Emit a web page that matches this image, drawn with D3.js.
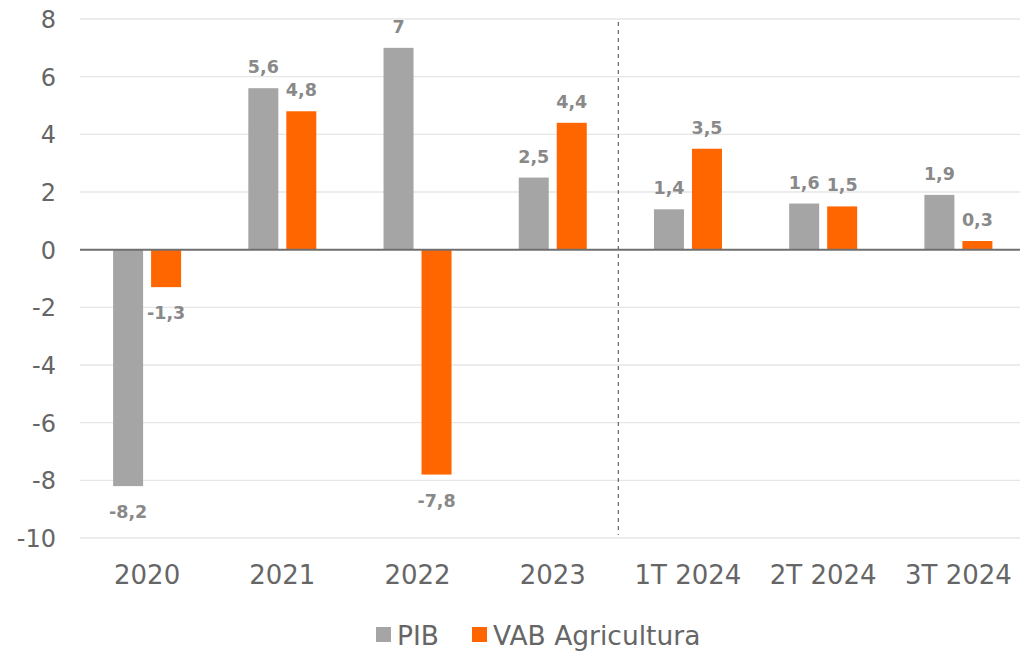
<!DOCTYPE html>
<html><head><meta charset="utf-8">
<script src="https://cdn.jsdelivr.net/npm/d3@7"></script>
<style>body{margin:0;background:#fff}svg{display:block}</style>
</head><body>
<svg id="c" width="1020" height="652"></svg>
<script>
const categories = ["2020","2021","2022","2023","1T 2024","2T 2024","3T 2024"];
const pib = [-8.2, 5.6, 7, 2.5, 1.4, 1.6, 1.9];
const vab = [-1.3, 4.8, -7.8, 4.4, 3.5, 1.5, 0.3];
const seriesNames = ["PIB","VAB Agricultura"];
const yTicks = [8,6,4,2,0,-2,-4,-6,-8,-10];
const colors = ["#a5a5a5","#ff6600"];
const FONT = "'DejaVu Sans', Verdana, sans-serif";

const svg = d3.select("#c");
const L = 80, R = 1020, T = 19, B = 538;
const x = d3.scaleBand().domain(categories).range([79.5, 1026]).padding(0);
const y = d3.scaleLinear().domain([-10, 8]).range([B, T]);

// gridlines
svg.append("g").selectAll("line").data(yTicks.filter(d => d !== 0)).join("line")
  .attr("x1", L).attr("x2", R).attr("y1", d => y(d)).attr("y2", d => y(d))
  .attr("stroke", "#e6e6e6").attr("stroke-width", 1.3);

// y axis labels
const yAxis = d3.axisLeft(y).tickValues(yTicks).tickSize(0).tickPadding(0)
  .tickFormat(d => d3.format("")(d).replace("−","-"));
const ya = svg.append("g").attr("transform", `translate(56,0)`).call(yAxis);
ya.select(".domain").remove();
ya.selectAll("text").attr("font-family", FONT).attr("font-size", 24).attr("fill", "#666")
  .attr("dy", "0.35em");

// bars
const bw = 30, gap = 8;
const series = [pib, vab];
series.forEach((vals, si) => {
  const g = svg.append("g");
  const bx = (c) => x(c) + x.bandwidth()/2 + (si === 0 ? -gap/2 - bw : gap/2);
  g.selectAll("rect").data(vals.map((v,i)=>({v, c: categories[i]}))).join("rect")
    .attr("x", d => bx(d.c)).attr("width", bw)
    .attr("y", d => y(Math.max(0, d.v))).attr("height", d => Math.abs(y(d.v) - y(0)))
    .attr("fill", colors[si]);
  g.selectAll("text").data(vals.map((v,i)=>({v, c: categories[i]}))).join("text")
    .attr("x", d => bx(d.c) + bw/2)
    .attr("y", d => d.v >= 0 ? y(d.v) - 15 : y(d.v) + 32)
    .attr("text-anchor", "middle")
    .attr("font-family", FONT).attr("font-weight", "bold").attr("font-size", 17.5)
    .attr("fill", "#898989")
    .text(d => String(d.v).replace(".", ","));
});

// zero line
svg.append("line").attr("x1", L).attr("x2", R).attr("y1", y(0)).attr("y2", y(0))
  .attr("stroke", "#6f6f6f").attr("stroke-width", 2);

// dashed separator between 2023 and 1T 2024
const sepX = x("1T 2024") - 2;
svg.append("line").attr("x1", sepX).attr("x2", sepX).attr("y1", y(7.9)).attr("y2", y(-9.9))
  .attr("stroke", "#6f6f6f").attr("stroke-width", 1.3).attr("stroke-dasharray", "4,4");

// x axis labels
const xAxis = d3.axisBottom(x).tickSize(0).tickPadding(0);
const xa = svg.append("g").attr("transform", `translate(0,${B})`).call(xAxis);
xa.select(".domain").remove();
xa.selectAll("text").attr("font-family", FONT).attr("font-size", 26).attr("fill", "#666")
  .attr("dy", 0).attr("y", 46);

// legend
const legX = [376, 472];
const lg = svg.append("g");
seriesNames.forEach((n, i) => {
  lg.append("rect").attr("x", legX[i]).attr("y", 627).attr("width", 15).attr("height", 15).attr("fill", colors[i]);
  lg.append("text").attr("x", legX[i] + 21).attr("y", 645).attr("font-family", FONT)
    .attr("font-size", 26.5).attr("fill", "#666").text(n);
});
</script>
</body></html>
